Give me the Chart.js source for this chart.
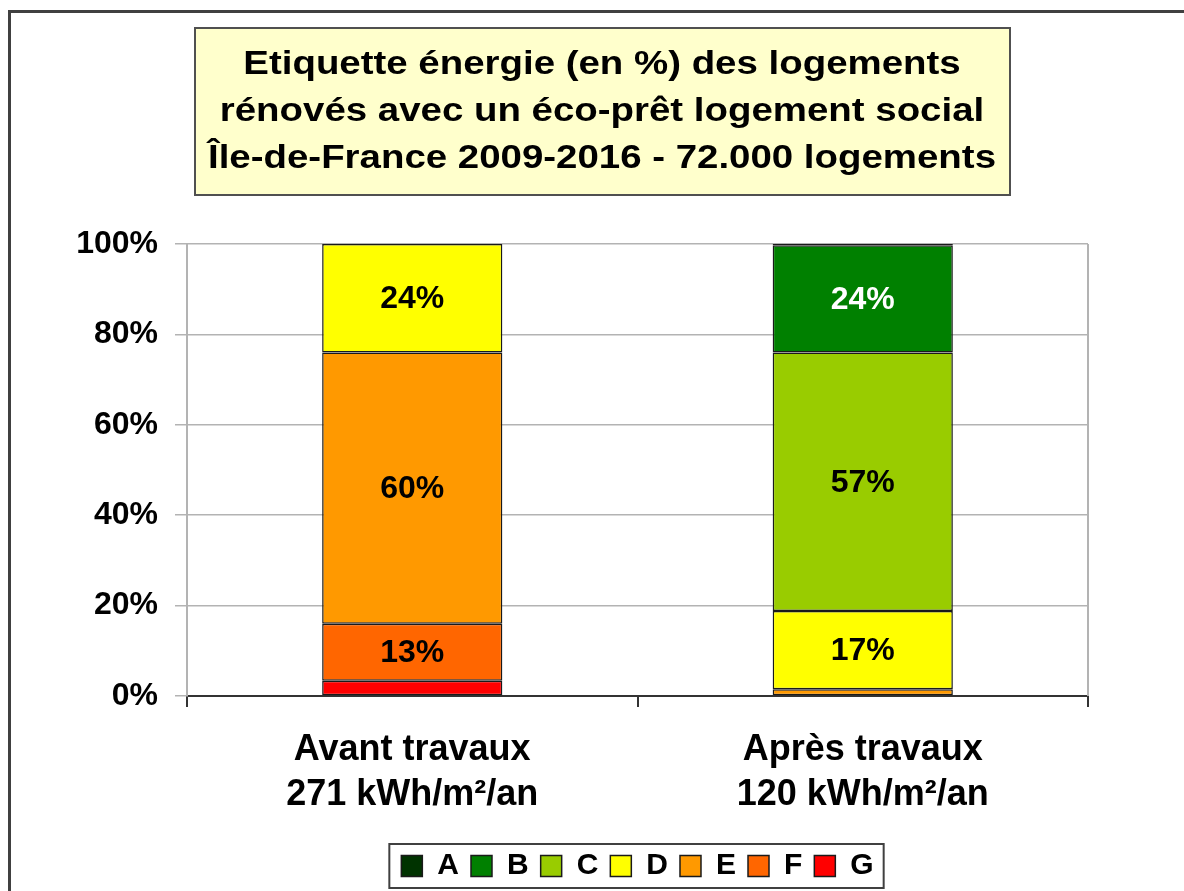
<!DOCTYPE html>
<html>
<head>
<meta charset="utf-8">
<script src="https://cdn.jsdelivr.net/npm/chart.js@4.4.0/dist/chart.umd.min.js"></script>
<style>
  html, body { margin: 0; padding: 0; background: #fff; }
  #wrap { width: 1184px; height: 891px; position: relative; }
</style>
</head>
<body>
<div id="wrap"><canvas id="chart"></canvas></div>
<script>
// Etiquette énergie avant / après travaux (éco-prêt logement social)

var categories = [["Avant travaux", "271 kWh/m²/an"], ["Après travaux", "120 kWh/m²/an"]];
var classA = [0, 0.3];
var classB = [0, 23.7];
var classC = [0, 57.2];
var classD = [24, 17.3];
var classE = [60, 1.5];
var classF = [12.6, 0];
var classG = [3.4, 0];
var yTicks = [0, 20, 40, 60, 80, 100];
var titleLines = [
  "Etiquette énergie (en %) des logements",
  "rénovés avec un éco-prêt logement social",
  "Île-de-France 2009-2016 - 72.000 logements",
];

var FONT = "'Liberation Sans', Arial, sans-serif";

// cadre, titre et bordure de la zone de tracé
var decorPlugin = {
  id: "decor",
  beforeDraw: function (chart) {
    var ctx = chart.ctx;
    ctx.save();
    ctx.strokeStyle = "#404040";
    ctx.lineWidth = 3;
    ctx.strokeRect(9.5, 11.5, chart.width + 20, chart.height + 20);

    ctx.fillStyle = "#FFFFCC";
    ctx.fillRect(195, 28, 815, 167);
    ctx.strokeStyle = "#505050";
    ctx.lineWidth = 2;
    ctx.strokeRect(195, 28, 815, 167);

    ctx.fillStyle = "#000";
    ctx.font = "bold 34px " + FONT;
    ctx.textAlign = "center";
    ctx.textBaseline = "middle";
    titleLines.forEach(function (t, i) {
      ctx.save();
      ctx.translate(602, 65 + i * 47);
      ctx.scale(1.13, 1);
      ctx.fillText(t, 0, 0);
      ctx.restore();
    });
    ctx.restore();
  },
  beforeDatasetsDraw: function (chart) {
    var a = chart.chartArea;
    var ctx = chart.ctx;
    ctx.save();
    ctx.strokeStyle = "#b3b3b3";
    ctx.lineWidth = 2;
    ctx.beginPath();
    ctx.moveTo(a.right, a.top);
    ctx.lineTo(a.right, a.bottom);
    ctx.stroke();
    ctx.restore();
  },
  afterDraw: function (chart) {
    // cadre de la légende
    var boxes = chart.legend.legendHitBoxes;
    if (!boxes || !boxes.length) return;
    var l = Infinity, r = -Infinity, t = Infinity, b = -Infinity;
    boxes.forEach(function (h) {
      l = Math.min(l, h.left);
      r = Math.max(r, h.left + h.width);
      t = Math.min(t, h.top);
      b = Math.max(b, h.top + h.height);
    });
    var ctx = chart.ctx;
    ctx.save();
    ctx.strokeStyle = "#404040";
    ctx.lineWidth = 2;
    ctx.strokeRect(l - 12, t - 7, r - l + 22, b - t + 14);
    ctx.restore();
  },
};

// valeurs dans les barres
var labelPlugin = {
  id: "barLabels",
  afterDatasetsDraw: function (chart) {
    var ctx = chart.ctx;
    ctx.save();
    ctx.font = "bold 32px " + FONT;
    ctx.textAlign = "center";
    ctx.textBaseline = "middle";
    chart.data.datasets.forEach(function (ds, i) {
      var meta = chart.getDatasetMeta(i);
      meta.data.forEach(function (bar, j) {
        var v = ds.data[j];
        if (v < 5) return;
        ctx.fillStyle = ds.labelColor || "#000";
        ctx.fillText(Math.round(v) + "%", bar.x, (bar.y + bar.base) / 2 + 1);
      });
    });
    ctx.restore();
  },
};

function serie(label, data, color, labelColor) {
  return {
    label: label,
    data: data,
    backgroundColor: color,
    borderColor: "#1a1a1a",
    borderWidth: 1.5,
    borderSkipped: false,
    barPercentage: 0.4,
    categoryPercentage: 1,
    labelColor: labelColor,
  };
}

// G en bas de la pile, A en haut
var datasets = [
  serie("G", classG, "#FF0000"),
  serie("F", classF, "#FF6600"),
  serie("E", classE, "#FF9900"),
  serie("D", classD, "#FFFF00"),
  serie("C", classC, "#99CC00"),
  serie("B", classB, "#008000", "#fff"),
  serie("A", classA, "#003300"),
];

new Chart(document.getElementById("chart"), {
  type: "bar",
  data: { labels: categories, datasets: datasets },
  options: {
    responsive: true,
    maintainAspectRatio: false,
    animation: false,
    layout: { padding: { left: 0, right: 96, top: 244, bottom: 0 } },
    scales: {
      x: {
        stacked: true,
        afterFit: function (s) { s.height = 143; },
        grid: {
          offset: true,
          drawOnChartArea: false,
          drawTicks: true,
          tickLength: 11,
          color: "#333",
          lineWidth: 2,
        },
        border: { color: "#333", width: 2 },
        ticks: {
          color: "#000",
          padding: 21,
          font: { family: FONT, size: 36, weight: "bold", lineHeight: 1.25 },
        },
      },
      y: {
        stacked: true,
        min: 0,
        max: 100,
        afterFit: function (s) { s.width = 187; },
        afterBuildTicks: function (s) {
          s.ticks = yTicks.map(function (v) { return { value: v }; });
        },
        grid: { color: "#b3b3b3", lineWidth: 1.5, tickLength: 12 },
        border: { color: "#b3b3b3", width: 2 },
        ticks: {
          color: "#000",
          padding: 17,
          font: { family: FONT, size: 32, weight: "bold" },
          callback: function (v) { return v + "%"; },
        },
      },
    },
    plugins: {
      legend: {
        position: "bottom",
        fullSize: false,
        reverse: true,
        labels: {
          color: "#000",
          boxWidth: 21,
          boxHeight: 21,
          padding: 12,
          font: { family: FONT, size: 30, weight: "bold" },
        },
      },
      tooltip: { enabled: false },
    },
  },
  plugins: [decorPlugin, labelPlugin],
});
</script>
</body>
</html>
